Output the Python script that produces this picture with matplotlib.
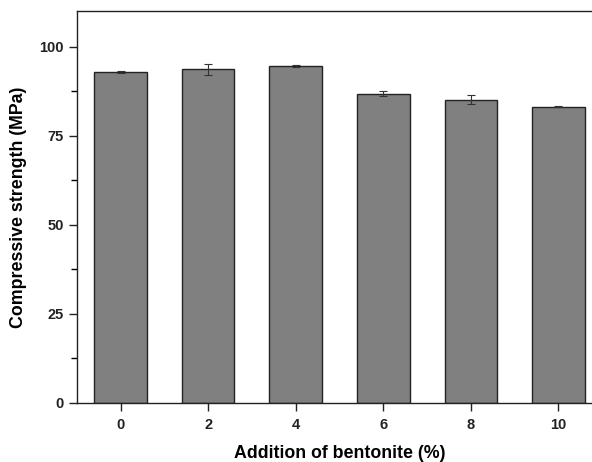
import numpy as np
import matplotlib.pyplot as plt
from matplotlib.ticker import MultipleLocator

plt.rcParams['font.family'] = ['Liberation Sans', 'DejaVu Sans']
plt.rcParams['font.weight'] = 'bold'

bentonite = [0, 2, 4, 6, 8, 10]
strength = [93.0, 93.6, 94.5, 86.8, 85.1, 83.2]
err = [0.3, 1.5, 0.3, 0.7, 1.2, 0.2]

fig = plt.figure(figsize=(5.92, 4.62), dpi=100)
ax = fig.add_axes([0.130, 0.128, 0.887, 0.848])
ax.bar(bentonite, strength, 1.2, color="#808080", edgecolor="#222222", linewidth=1,
       yerr=err, capsize=3, error_kw=dict(ecolor="#333333", elinewidth=0.8, capthick=0.8))

ax.set_xlim(-1, 11)
ax.set_ylim(0, 110)
ax.set_xticks(bentonite)
ax.set_yticks([0, 25, 50, 75, 100])
ax.yaxis.set_minor_locator(MultipleLocator(12.5))
ax.tick_params(axis='both', direction='out', length=6, width=1, labelsize=10.5, colors="#222222")
ax.tick_params(axis='x', pad=5)
ax.tick_params(axis='y', which='minor', direction='out', length=4, width=1)
for s in ax.spines.values():
    s.set_linewidth(1)
    s.set_color("#222222")
ax.set_xlabel("Addition of bentonite (%)", fontsize=12.8, fontweight='bold', labelpad=9)
ax.set_ylabel("Compressive strength (MPa)", fontsize=12.8, fontweight='bold', labelpad=9)
fig.savefig("out.png", dpi=100)
